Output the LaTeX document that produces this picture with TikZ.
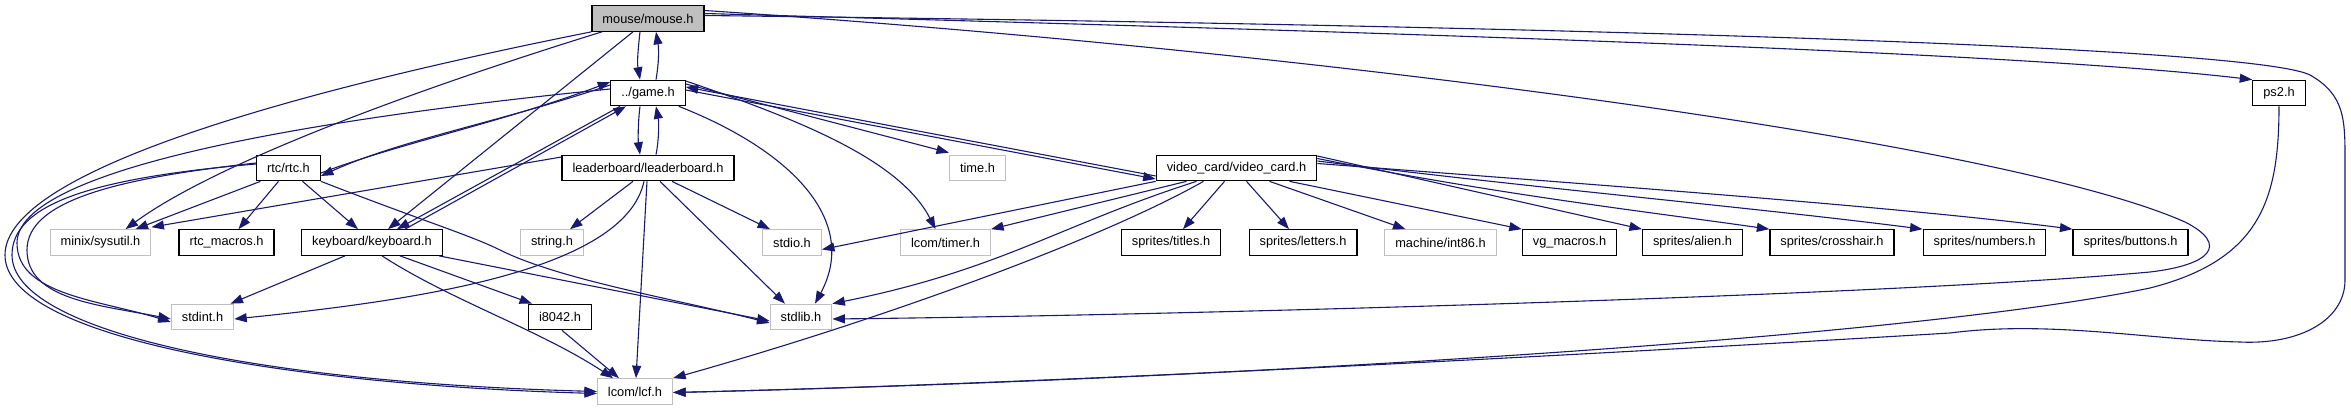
\documentclass[tikz,border=0pt]{standalone}
\usepackage{fontspec}
\setmainfont{Liberation Sans}
\usetikzlibrary{arrows.meta}
\definecolor{edgeblue}{HTML}{191970}
\definecolor{boxgrey}{HTML}{BFBFBF}

\begin{document}
\begin{tikzpicture}[
            x=1pt,
            y=1pt,
            yscale=-1,
            xscale=1,
            every node/.style={text=black, font=\fontsize{12.8}{15}\selectfont},
            hdr/.style={draw=black, line width=1.2pt, fill=white, inner xsep=10.5pt, inner ysep=0pt, minimum height=25.5pt},
            syshdr/.style={hdr, draw=boxgrey},
            mainhdr/.style={hdr, fill=boxgrey},
            incl/.style={draw=edgeblue, line width=1.1pt, -{Triangle[length=12.5pt,width=9pt]}},
            line width=1pt
        ]
            \useasboundingbox (0,0) rectangle (2351,411);

            \node[mainhdr] (mouse) at (648,18.5) {mouse/mouse.h};
            \node[hdr] (game) at (648,93) {../game.h};
            \node[hdr] (ps2) at (2279,93) {ps2.h};
            \node[hdr] (rtc) at (288.5,168) {rtc/rtc.h};
            \node[hdr] (lead) at (648,168) {leaderboard/leaderboard.h};
            \node[syshdr] (time) at (977.5,168) {time.h};
            \node[hdr] (vid) at (1236.5,168) {video\_card/video\_card.h};
            \node[syshdr] (sysutil) at (100.5,242.5) {minix/sysutil.h};
            \node[hdr] (rtcmac) at (226.5,242.5) {rtc\_macros.h};
            \node[hdr] (kbd) at (372,242.5) {keyboard/keyboard.h};
            \node[syshdr] (string) at (552,242.5) {string.h};
            \node[syshdr] (stdio) at (792,242.5) {stdio.h};
            \node[syshdr] (timer) at (945.5,242.5) {lcom/timer.h};
            \node[hdr] (titles) at (1171,242.5) {sprites/titles.h};
            \node[hdr] (letters) at (1303,242.5) {sprites/letters.h};
            \node[syshdr] (int86) at (1440.5,242.5) {machine/int86.h};
            \node[hdr] (vgmac) at (1569.5,242.5) {vg\_macros.h};
            \node[hdr] (alien) at (1692.5,242.5) {sprites/alien.h};
            \node[hdr] (cross) at (1832,242.5) {sprites/crosshair.h};
            \node[hdr] (numbers) at (1984.5,242.5) {sprites/numbers.h};
            \node[hdr] (buttons) at (2130.5,242.5) {sprites/buttons.h};
            \node[syshdr] (stdint) at (202.5,317) {stdint.h};
            \node[hdr] (i8042) at (560,317) {i8042.h};
            \node[syshdr] (stdlib) at (801,317) {stdlib.h};
            \node[syshdr] (lcf) at (635,391.5) {lcom/lcf.h};

            % mouse/mouse.h
            \draw[incl] ([xshift=-8pt]mouse.south) .. controls (638,50) and (637,62) .. ([xshift=-8pt]game.north);
            \draw[incl] ([xshift=-46pt]mouse.south) .. controls (430,85) and (220,160) .. ([xshift=25pt]sysutil.north);
            \draw[incl] (mouse.south west) .. controls (300,90) and (5,170) .. (5,255) .. controls (5,340) and (300,385) .. ([yshift=2pt]lcf.west);
            \draw[incl] ([xshift=-15pt]mouse.south) -- ([xshift=16pt]kbd.north);
            \draw[incl] ([yshift=-5pt]mouse.east) .. controls (1300,30) and (2000,50) .. (ps2.north west);
            \draw[incl] ([yshift=-3pt]mouse.east) .. controls (1500,25) and (2250,45) .. (2310,75) .. controls (2345,95) and (2345,120) .. (2345,160) -- (2345,280) .. controls (2345,320) and (2300,345) .. (2240,342) .. controls (2150,340) and (2050,320) .. (1950,333) .. controls (1500,360) and (1000,385) .. ([yshift=1pt]lcf.east);
            \draw[incl] ([yshift=-8pt]mouse.east) .. controls (1300,50) and (2000,140) .. (2185,222) .. controls (2230,245) and (2210,265) .. (2150,272) .. controls (1900,295) and (1200,315) .. ([yshift=2pt]stdlib.east);

            % ../game.h
            \draw[incl] ([xshift=8pt]game.north) .. controls (659,62) and (659,50) .. ([xshift=8pt]mouse.south);
            \draw[incl] ([yshift=-4pt]game.west) .. controls (300,120) and (17,170) .. (17,243) .. controls (17,295) and (100,300) .. ([yshift=5pt]stdint.west);
            \draw[incl] ([yshift=-8pt]game.west) .. controls (500,122) and (400,140) .. ([yshift=8pt]rtc.east);
            \draw[incl] ([xshift=-28pt]game.south) -- ([xshift=25pt]kbd.north);
            \draw[incl] ([xshift=-8pt]game.south) .. controls (638,122) and (638,140) .. ([xshift=-8pt]lead.north);
            \draw[incl] ([yshift=-3pt]game.east) -- ([yshift=11pt]vid.west);
            \draw[incl] ([yshift=-9pt]game.east) -- ([yshift=-2pt]time.north west);
            \draw[incl] ([yshift=-12pt]game.east) .. controls (800,120) and (900,160) .. ([xshift=-10pt]timer.north);
            \draw[incl] ([xshift=-7pt]game.south east) .. controls (790,150) and (860,220) .. ([xshift=14pt]stdlib.north);

            % rtc/rtc.h
            \draw[incl] ([yshift=5pt]rtc.east) .. controls (400,143) and (500,123) .. ([yshift=-11pt]game.west);
            \draw[incl] ([xshift=-28pt]rtc.south) -- ([xshift=35pt]sysutil.north);
            \draw[incl] ([xshift=-10pt]rtc.south) -- ([xshift=12pt]rtcmac.north);
            \draw[incl] ([xshift=14pt]rtc.south) -- ([xshift=-14pt]kbd.north);
            \draw[incl] (rtc.south east) .. controls (420,220) and (470,235) .. (500,250) .. controls (560,280) and (680,300) .. ([yshift=6pt]stdlib.west);
            \draw[incl] ([yshift=-5pt]rtc.west) .. controls (120,178) and (27,200) .. (27,250) .. controls (27,300) and (100,305) .. ([yshift=2pt]stdint.west);
            \draw[incl] ([yshift=-4pt]rtc.west) .. controls (90,178) and (12,205) .. (12,255) .. controls (12,330) and (250,382) .. (lcf.west);

            % keyboard/keyboard.h
            \draw[incl] ([xshift=33pt]kbd.north) -- ([xshift=-22pt]game.south);
            \draw[incl] ([xshift=-27pt]kbd.south) -- ([xshift=28pt]stdint.north);
            \draw[incl] ([xshift=28pt]kbd.south) -- ([xshift=-28pt]i8042.north);
            \draw[incl] ([xshift=10pt]kbd.south) .. controls (450,300) and (540,330) .. ([xshift=-22pt]lcf.north);
            \draw[incl] ([xshift=-4pt]kbd.south east) -- ([yshift=4pt]stdlib.west);

            % leaderboard/leaderboard.h
            \draw[incl] ([xshift=8pt]lead.north) .. controls (659,140) and (659,122) .. ([xshift=8pt]game.south);
            \draw[incl] ([yshift=-11pt]lead.west) -- ([yshift=-2pt]sysutil.north east);
            \draw[incl] ([xshift=-15pt]lead.south) -- ([xshift=18pt]string.north);
            \draw[incl] ([xshift=24pt]lead.south) -- ([xshift=-22pt]stdio.north);
            \draw[incl] ([xshift=12pt]lead.south) -- ([xshift=-16pt]stdlib.north);
            \draw[incl] ([xshift=-1pt]lead.south) -- ([xshift=1pt]lcf.north);
            \draw[incl] ([xshift=-4pt]lead.south) .. controls (625,270) and (420,300) .. ([yshift=2pt]stdint.east);

            % video_card/video_card.h
            \draw[incl] ([yshift=8pt]vid.west) -- ([yshift=-6pt]game.east);
            \draw[incl] (vid.south west) -- ([yshift=7pt]stdio.east);
            \draw[incl] ([xshift=-50pt]vid.south) -- (timer.north east);
            \draw[incl] ([xshift=-40pt]vid.south) .. controls (1060,225) and (1000,270) .. (stdlib.north east);
            \draw[incl] ([xshift=-33pt]vid.south) .. controls (1100,240) and (880,320) .. (lcf.north east);
            \draw[incl] ([xshift=-12pt]vid.south) -- ([xshift=12pt]titles.north);
            \draw[incl] ([xshift=10pt]vid.south) -- ([xshift=-14pt]letters.north);
            \draw[incl] ([xshift=33pt]vid.south) -- ([xshift=-35pt]int86.north);
            \draw[incl] ([xshift=53pt]vid.south) -- (vgmac.north west);
            \draw[incl] ([yshift=-12pt]vid.east) -- (alien.north west);
            \draw[incl] ([yshift=-9.5pt]vid.east) .. controls (1500,195) and (1650,212) .. (cross.north west);
            \draw[incl] ([yshift=-7pt]vid.east) .. controls (1550,190) and (1750,207) .. (numbers.north west);
            \draw[incl] ([yshift=-4.5pt]vid.east) .. controls (1600,185) and (1900,207) .. (buttons.north west);

            % i8042.h, ps2.h
            \draw[incl] ([xshift=2pt]i8042.south) -- ([xshift=-16pt]lcf.north);
            \draw[incl] (ps2.south) .. controls (2279,200) and (2260,260) .. (2150,288) .. controls (1900,340) and (1200,380) .. ([yshift=1pt]lcf.east);
        \end{tikzpicture}
\end{document}
